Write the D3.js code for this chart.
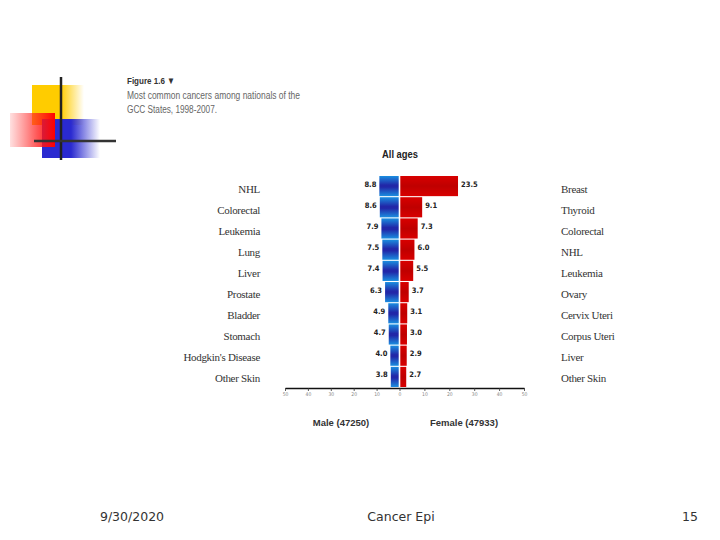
<!DOCTYPE html>
<html>
<head>
<meta charset="utf-8">
<script src="https://cdn.jsdelivr.net/npm/d3@7/dist/d3.min.js"></script>
<style>
  html, body { margin: 0; padding: 0; background: #fff; }
  svg { display: block; }
</style>
</head>
<body>
<svg id="chart" width="720" height="540"></svg>
<script>
// ---- data ----
const maleCategories = ["NHL", "Colorectal", "Leukemia", "Lung", "Liver", "Prostate", "Bladder", "Stomach", "Hodgkin's Disease", "Other Skin"];
const maleValues = [8.8, 8.6, 7.9, 7.5, 7.4, 6.3, 4.9, 4.7, 4.0, 3.8];
const femaleCategories = ["Breast", "Thyroid", "Colorectal", "NHL", "Leukemia", "Ovary", "Cervix Uteri", "Corpus Uteri", "Liver", "Other Skin"];
const femaleValues = [23.5, 9.1, 7.3, 6.0, 5.5, 3.7, 3.1, 3.0, 2.9, 2.7];
const tickValues = [-50, -40, -30, -20, -10, 0, 10, 20, 30, 40, 50];
const chartTitle = "All ages";
const maleLabel = "Male (47250)";
const femaleLabel = "Female (47933)";
const figTitle = "Figure 1.6 \u25BC";
const figCaption = ["Most common cancers among nationals of the", "GCC States, 1998-2007."];
const footer = { date: "9/30/2020", center: "Cancer Epi", page: "15" };

const svg = d3.select("#chart");
const defs = svg.append("defs");

// gradients
function linGrad(id, x1, y1, x2, y2, stops) {
  const g = defs.append("linearGradient").attr("id", id)
    .attr("x1", x1).attr("y1", y1).attr("x2", x2).attr("y2", y2);
  stops.forEach(s => g.append("stop").attr("offset", s[0]).attr("stop-color", s[1]).attr("stop-opacity", s[2] == null ? 1 : s[2]));
}
linGrad("blueBar", 0, 0, 0, 1, [[0, "#1a8ee0"], [0.45, "#2127a8"], [0.55, "#2127a8"], [1, "#1a8ee0"]]);
linGrad("redBar", 0, 0, 0, 1, [[0, "#d80000"], [0.5, "#bf0000"], [1, "#d80000"]]);
linGrad("yel", 0, 0, 1, 0, [[0, "#ffcc00"], [0.55, "#ffcc00"], [1, "#ffcc00", 0]]);
linGrad("blu", 0, 0, 1, 0, [[0, "#2a2ad0"], [0.5, "#2a2ad0"], [1, "#2a2ad0", 0]]);
linGrad("red", 0, 0, 1, 0, [[0, "#ff3030", 0.15], [0.6, "#ff2020", 0.75], [1, "#ff0000"]]);

// ---- decorative logo ----
const logo = svg.append("g");
logo.append("rect").attr("x", 32).attr("y", 85).attr("width", 52).attr("height", 40).attr("fill", "url(#yel)");
logo.append("rect").attr("x", 42).attr("y", 119).attr("width", 58).attr("height", 39).attr("fill", "url(#blu)");
logo.append("rect").attr("x", 10).attr("y", 113).attr("width", 45).attr("height", 34).attr("fill", "url(#red)");
logo.append("line").attr("x1", 61).attr("x2", 61).attr("y1", 77).attr("y2", 160).attr("stroke", "#222").attr("stroke-width", 2.5);
logo.append("line").attr("x1", 34).attr("x2", 116).attr("y1", 141).attr("y2", 141).attr("stroke", "#333").attr("stroke-width", 2.5);

// ---- figure caption ----
const capFont = "Liberation Sans, sans-serif";
svg.append("text").attr("x", 127).attr("y", 84).text(figTitle)
  .attr("font-family", capFont).attr("font-weight", "bold")
  .attr("font-size", 9.5).attr("fill", "#333")
  .attr("textLength", 48).attr("lengthAdjust", "spacingAndGlyphs");
const capLens = [173, 90];
figCaption.forEach((t, i) => {
  svg.append("text").attr("x", 127).attr("y", 99 + i * 13.5).text(t)
    .attr("font-family", capFont)
    .attr("font-size", 10).attr("fill", "#666")
    .attr("textLength", capLens[i]).attr("lengthAdjust", "spacingAndGlyphs");
});

// ---- scales ----
const x = d3.scaleLinear().domain([-50, 0, 50]).range([285, 399.5, 524]);
const y = d3.scaleBand().domain(d3.range(maleValues.length)).range([176, 387]).paddingInner(0.05).paddingOuter(0);

const chart = svg.append("g");

// male bars
chart.selectAll("rect.male").data(maleValues).join("rect")
  .attr("class", "male")
  .attr("x", d => x(-d))
  .attr("y", (d, i) => y(i))
  .attr("width", d => x(0) - 0.8 - x(-d))
  .attr("height", y.bandwidth())
  .attr("fill", "url(#blueBar)");

// female bars
chart.selectAll("rect.female").data(femaleValues).join("rect")
  .attr("class", "female")
  .attr("x", x(0) + 0.8)
  .attr("y", (d, i) => y(i))
  .attr("width", d => x(d) - x(0) - 0.8)
  .attr("height", y.bandwidth())
  .attr("fill", "url(#redBar)");

const valFont = "DejaVu Sans Condensed, DejaVu Sans, sans-serif";
chart.selectAll("text.mv").data(maleValues).join("text")
  .attr("class", "mv")
  .attr("x", d => x(-d) - 3)
  .attr("y", (d, i) => y(i) + y.bandwidth() / 2 - 2)
  .attr("text-anchor", "end").attr("dominant-baseline", "central")
  .attr("font-family", valFont).attr("font-weight", "bold").attr("font-size", 7.5).attr("fill", "#222")
  .text(d => d.toFixed(1));
chart.selectAll("text.fv").data(femaleValues).join("text")
  .attr("class", "fv")
  .attr("x", d => x(d) + 3)
  .attr("y", (d, i) => y(i) + y.bandwidth() / 2 - 2)
  .attr("text-anchor", "start").attr("dominant-baseline", "central")
  .attr("font-family", valFont).attr("font-weight", "bold").attr("font-size", 7.5).attr("fill", "#222")
  .text(d => d.toFixed(1));

// category labels
const catFont = "Liberation Serif, DejaVu Serif, serif";
chart.selectAll("text.mc").data(maleCategories).join("text")
  .attr("class", "mc")
  .attr("x", 260)
  .attr("y", (d, i) => y(i) + y.bandwidth() / 2 + 2.5 - i * 0.2)
  .attr("text-anchor", "end").attr("dominant-baseline", "central")
  .attr("font-family", catFont).attr("font-size", 11).attr("fill", "#333")
  .attr("letter-spacing", -0.3)
  .text(d => d);
chart.selectAll("text.fc").data(femaleCategories).join("text")
  .attr("class", "fc")
  .attr("x", 561)
  .attr("y", (d, i) => y(i) + y.bandwidth() / 2 + 2.5 - i * 0.2)
  .attr("text-anchor", "start").attr("dominant-baseline", "central")
  .attr("font-family", catFont).attr("font-size", 11).attr("fill", "#333")
  .attr("letter-spacing", -0.3)
  .text(d => d);

// axis
const axis = d3.axisBottom(x).tickValues(tickValues).tickSize(3).tickSizeOuter(0)
  .tickFormat(d => Math.abs(d));
const ax = svg.append("g").attr("transform", "translate(0,388)").call(axis);
ax.select(".domain").attr("stroke", "#111").attr("stroke-width", 1.6);
ax.selectAll(".tick line").attr("stroke", "#333").attr("stroke-width", 0.8);
ax.selectAll(".tick text").attr("font-family", valFont).attr("font-size", 5).attr("fill", "#888").attr("dy", "0.4em");

// titles
svg.append("text").attr("x", 400).attr("y", 158).attr("text-anchor", "middle")
  .attr("font-family", capFont).attr("font-weight", "bold")
  .attr("font-size", 10.5).attr("fill", "#222")
  .attr("textLength", 36).attr("lengthAdjust", "spacingAndGlyphs").text(chartTitle);
svg.append("text").attr("x", 341).attr("y", 426).attr("text-anchor", "middle")
  .attr("font-family", capFont).attr("font-weight", "bold")
  .attr("font-size", 9.5).attr("fill", "#333").text(maleLabel);
svg.append("text").attr("x", 464).attr("y", 426).attr("text-anchor", "middle")
  .attr("font-family", capFont).attr("font-weight", "bold")
  .attr("font-size", 9.5).attr("fill", "#333").text(femaleLabel);

// footer
const footFont = "DejaVu Sans, sans-serif";
svg.append("text").attr("x", 132).attr("y", 521).attr("text-anchor", "middle")
  .attr("font-family", footFont).attr("font-size", 12.5).attr("fill", "#333").text(footer.date);
svg.append("text").attr("x", 401).attr("y", 521).attr("text-anchor", "middle")
  .attr("font-family", footFont).attr("font-size", 12.5).attr("fill", "#333").text(footer.center);
svg.append("text").attr("x", 690).attr("y", 521).attr("text-anchor", "middle")
  .attr("font-family", footFont).attr("font-size", 12.5).attr("fill", "#333").text(footer.page);
</script>
</body>
</html>
